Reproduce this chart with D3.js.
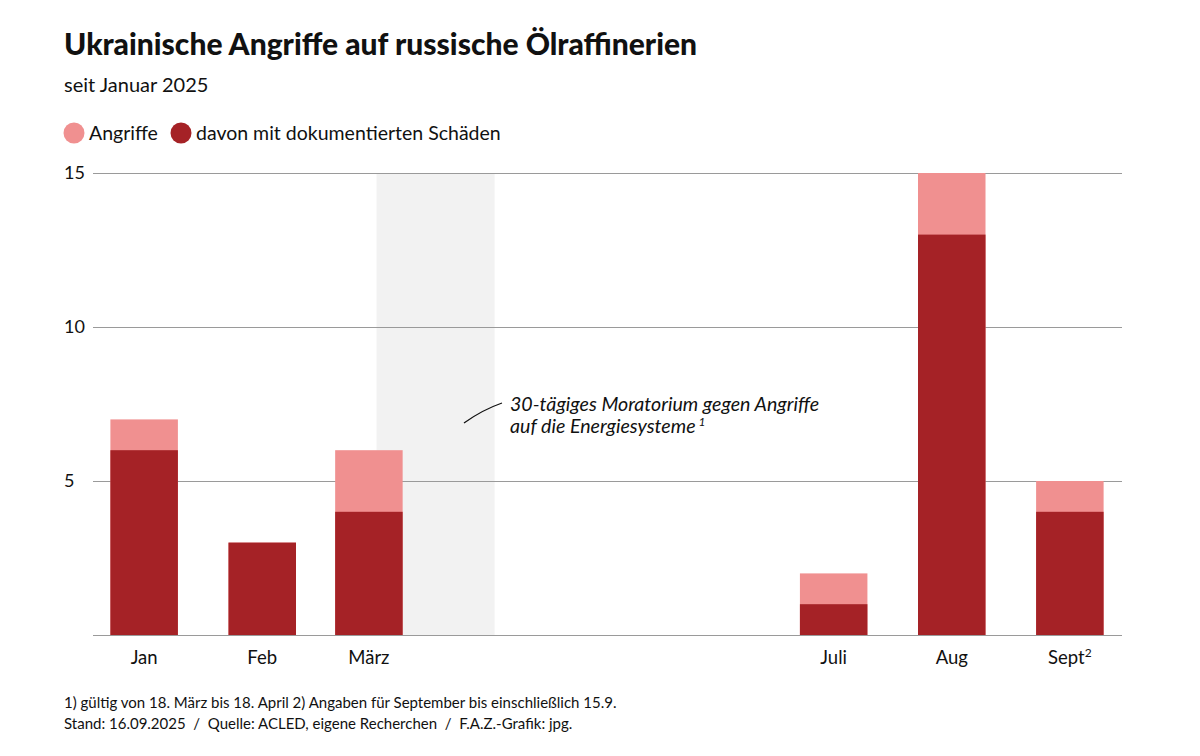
<!DOCTYPE html>
<html>
<head>
<meta charset="utf-8">
<script src="https://cdn.jsdelivr.net/npm/d3@7"></script>
<style>
    body { margin: 0; background: #fff; }
    text { font-family: Lato, "Noto Sans", sans-serif; fill: #111; }
</style>
</head>
<body>
<div id="graphHolder"></div>
<script>
'use strict'
// Werte
var months = ["Jan", "Feb", "März", "Juli", "Aug", "Sept"];
var monthDates = ["2025-01-16", "2025-02-16", "2025-03-16", "2025-07-16", "2025-08-16", "2025-09-16"];
var attacks = [7, 3, 6, 2, 15, 5];
var damaged = [6, 3, 4, 1, 13, 4];
var yTicks = [5, 10, 15];
var moratorium = ["2025-03-18", "2025-04-18"];

var _width = 1200, _height = 756;
var _margins = {top: 173, left: 93, right: 78, bottom: 121};
var parse = d3.timeParse("%Y-%m-%d");

var svg = d3.select("#graphHolder").append("svg")
        .attr("width", _width)
        .attr("height", _height);

var xScale = d3.scaleTime()
        .domain([parse("2025-01-01"), parse("2025-10-01")])
        .range([87, 1127]);
var yScale = d3.scaleLinear()
        .domain([0, 15])
        .range([_height - _margins.bottom, _margins.top]);

var barWidth = 67.5;
var x0 = _margins.left, x1 = _width - _margins.right;

// Titel
svg.append("text")
        .attr("x", 64).attr("y", 55)
        .style("font-size", "30px").style("font-weight", "900")
        .text("Ukrainische Angriffe auf russische Ölraffinerien");
svg.append("text")
        .attr("x", 64).attr("y", 92)
        .style("font-size", "20px")
        .text("seit Januar 2025");

// Legende
var legend = [{label: "Angriffe", color: "#f09090"},
              {label: "davon mit dokumentierten Schäden", color: "#a52226"}];
var lx = [74, 181];
legend.forEach(function (d, i) {
    svg.append("circle").attr("cx", lx[i]).attr("cy", 133).attr("r", 10.5).attr("fill", d.color);
    svg.append("text").attr("x", lx[i] + 15).attr("y", 140)
            .style("font-size", "19.5px").text(d.label);
});

// Moratorium
svg.append("rect")
        .attr("x", xScale(parse(moratorium[0])))
        .attr("y", yScale(15))
        .attr("width", xScale(parse(moratorium[1])) - xScale(parse(moratorium[0])))
        .attr("height", yScale(0) - yScale(15))
        .attr("fill", "#f2f2f2");

// Gitter
svg.selectAll("line.grid")
        .data([0].concat(yTicks))
        .enter().append("line")
        .attr("class", "grid")
        .attr("x1", x0).attr("x2", x1)
        .attr("y1", function (d) { return yScale(d) + 0.5; })
        .attr("y2", function (d) { return yScale(d) + 0.5; })
        .attr("stroke", "#9a9a9a").attr("stroke-width", 1.2);

svg.selectAll("text.ytick")
        .data(yTicks)
        .enter().append("text")
        .attr("class", "ytick")
        .attr("x", 64)
        .attr("y", function (d) { return yScale(d) + 6; })
        .style("font-size", "18px")
        .text(function (d) { return d; });

// Balken
var data = months.map(function (m, i) {
    return {month: m, date: parse(monthDates[i]), total: attacks[i], dmg: damaged[i]};
});

var bars = svg.append("g").attr("class", "body");
bars.selectAll("rect.total")
        .data(data)
        .enter().append("rect")
        .attr("class", "total")
        .attr("x", function (d) { return xScale(d.date) - barWidth / 2; })
        .attr("y", function (d) { return yScale(d.total); })
        .attr("width", barWidth)
        .attr("height", function (d) { return yScale(0) - yScale(d.total); })
        .attr("fill", "#f09090");
bars.selectAll("rect.dmg")
        .data(data)
        .enter().append("rect")
        .attr("class", "dmg")
        .attr("x", function (d) { return xScale(d.date) - barWidth / 2; })
        .attr("y", function (d) { return yScale(d.dmg); })
        .attr("width", barWidth)
        .attr("height", function (d) { return yScale(0) - yScale(d.dmg); })
        .attr("fill", "#a52226");

// x-Beschriftung
var xl = svg.selectAll("text.xtick")
        .data(data)
        .enter().append("text")
        .attr("class", "xtick")
        .attr("x", function (d) { return xScale(d.date); })
        .attr("y", 664)
        .attr("text-anchor", "middle")
        .style("font-size", "18.5px")
        .text(function (d) { return d.month; });
xl.filter(function (d) { return d.month === "Sept"; })
        .append("tspan")
        .attr("dy", -7).style("font-size", "12px")
        .text("2");

// Anmerkung
svg.append("path")
        .attr("d", "M464,423 Q482,410 502,403")
        .attr("fill", "none").attr("stroke", "#111").attr("stroke-width", 1.3);
var ann = svg.append("text")
        .attr("x", 510).attr("y", 411)
        .style("font-size", "19.6px").style("font-style", "italic");
ann.append("tspan").attr("x", 510).text("30-tägiges Moratorium gegen Angriffe");
ann.append("tspan").attr("x", 510).attr("dy", 22).text("auf die Energiesysteme");
ann.append("tspan").attr("dy", -7).attr("dx", 3).style("font-size", "12px").text("1");

// Fußnote
svg.append("text").attr("x", 64).attr("y", 708)
        .style("font-size", "15px")
        .text("1) gültig von 18. März bis 18. April 2) Angaben für September bis einschließlich 15.9.");
svg.append("text").attr("x", 64).attr("y", 729)
        .style("font-size", "15px")
        .text("Stand: 16.09.2025 \u00a0/ \u00a0Quelle: ACLED, eigene Recherchen \u00a0/ \u00a0F.A.Z.-Grafik: jpg.");
</script>
</body>
</html>
